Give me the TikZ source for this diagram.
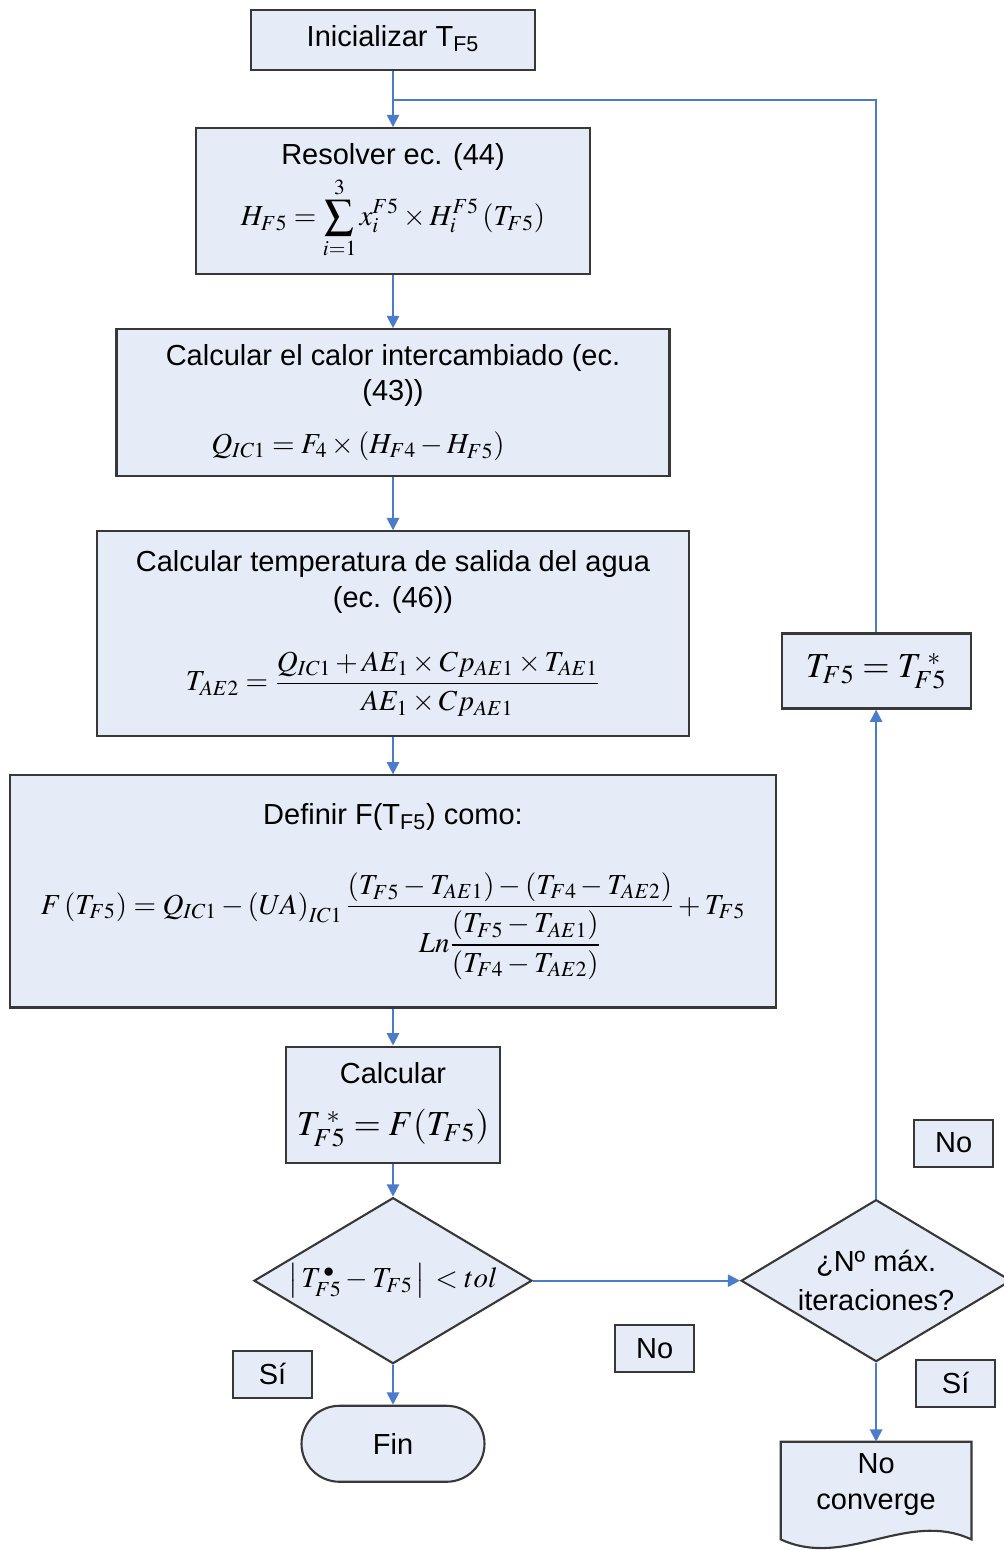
\documentclass[tikz,border=0pt]{standalone}
\usepackage{amsmath}
\usepackage{mathptmx}
\usepackage{fontspec}
\setmainfont{Liberation Sans}
\usetikzlibrary{positioning}
\usetikzlibrary{shapes.geometric,shapes.misc}
\usetikzlibrary{arrows.meta}
\definecolor{boxfill}{HTML}{E6ECF7}
\definecolor{boxline}{HTML}{383838}
\definecolor{flowblue}{HTML}{4A7CC9}
\tikzset{
    box/.style={
        draw=boxline,
        line width=1.2pt,
        fill=boxfill,
        align=center,
        inner sep=2pt},
    decision/.style={box, diamond, aspect=1.67, inner sep=0pt},
    terminal/.style={box, rounded rectangle},
    tag/.style={box, minimum width=1.58cm, minimum height=0.94cm},
    flow/.style={
        draw=flowblue,
        line width=1.1pt},
    arrow/.style={flow, -{Triangle[width=7pt,length=7pt]}}}

\begin{document}
\begin{tikzpicture}[font=\fontsize{16.5}{20}\selectfont]
    \useasboundingbox (0,0) rectangle (20.06,-31);
    % main column
    \node[box, minimum width=5.68cm, minimum height=1.2cm] (init) at (7.86,-0.8) {Inicializar T\textsubscript{F5}\rule[-4pt]{0pt}{0pt}};
    \node[box, minimum width=7.88cm, minimum height=2.92cm, below=1.12cm of init] (res)
        {Resolver ec. (44)\\[3pt] $\displaystyle H_{F5}=\sum_{i=1}^{3}x_i^{F5}\times H_i^{F5}\left(T_{F5}\right)$\rule[-4pt]{0pt}{0pt}};
    \node[box, minimum width=11.06cm, minimum height=2.94cm, below=1.06cm of res] (heat)
        {Calcular el calor intercambiado (ec.\\(43))\\[10pt] $Q_{IC1}=F_4\times\left(H_{F4}-H_{F5}\right)$\hspace*{1.4cm}\rule[-4pt]{0pt}{0pt}};
    \node[box, minimum width=11.84cm, minimum height=4.1cm, below=1.06cm of heat] (water)
        {Calcular temperatura de salida del agua\\(ec. (46))\\[21pt]
        $\displaystyle T_{AE2}=\frac{Q_{IC1}+AE_1\times Cp_{AE1}\times T_{AE1}}{AE_1\times Cp_{AE1}}$\rule[-8pt]{0pt}{0pt}};
    \node[box, minimum width=15.32cm, minimum height=4.64cm, below=0.74cm of water] (def)
        {Definir F(T\textsubscript{F5}) como:\\[23pt]
        $\displaystyle F\left(T_{F5}\right)=Q_{IC1}-\left(UA\right)_{IC1}\frac{\left(T_{F5}-T_{AE1}\right)-\left(T_{F4}-T_{AE2}\right)}{Ln\dfrac{\left(T_{F5}-T_{AE1}\right)}{\left(T_{F4}-T_{AE2}\right)}}+T_{F5}$\rule[-15pt]{0pt}{0pt}};
    \node[box, minimum width=4.28cm, minimum height=2.32cm, below=0.74cm of def] (calc)
        {Calcular\\[10pt] {\fontsize{20}{22}\selectfont $T_{F5}^{\;*}=F(T_{F5})$}};
    \node[decision, minimum width=5.56cm, minimum height=3.32cm, below=0.66cm of calc] (test)
        {$\left|\,T_{F5}^{\,\bullet}-T_{F5}\,\right|\,<tol$};
    \node[terminal, minimum width=3.8cm, minimum height=1.52cm, below=0.8cm of test] (fin) {Fin};
    % right column
    \node[decision, minimum width=5.4cm, minimum height=3.24cm, right=4.14cm of test] (maxit)
        {¿Nº máx.\\[2pt]iteraciones?};
    \node[box, minimum width=3.78cm, minimum height=1.5cm, above=9.78cm of maxit] (upd)
        {{\fontsize{20}{22}\selectfont $T_{F5}=T_{F5}^{\;*}$}};
    \node[minimum width=3.8cm, minimum height=1.7cm, align=center, below=1.58cm of maxit] (nc)
        {No\\converge};
    \draw[box] (nc.north west) -- (nc.north east) -- ([yshift=-0.24cm]nc.south east)
        .. controls +(-1.3,0.6) and +(1.3,-0.6) .. ([yshift=-0.24cm]nc.south west) -- cycle;
    \node[align=center] at (nc.center) {No\\converge};
    % answer tags
    \node[tag, above right=0.62cm and 0.74cm of maxit.north] (no1) {No};
    \node[tag, below right=0.86cm and 1.62cm of test.east] (no2) {No};
    \node[tag, below left=-0.3cm and 1.6cm of test.south] (yes1) {Sí};
    \node[tag, below right=-0.08cm and 0.78cm of maxit.south] (yes2) {Sí};
    % connectors
    \coordinate[below=0.58cm of init] (merge);
    \draw[arrow] (init) -- (res);
    \draw[flow] (upd.north) |- (merge);
    \draw[arrow] (res) -- (heat);
    \draw[arrow] (heat) -- (water);
    \draw[arrow] (water) -- (def);
    \draw[arrow] (def) -- (calc);
    \draw[arrow] (calc) -- (test);
    \draw[arrow] (test) -- (fin);
    \draw[arrow] (test) -- (maxit);
    \draw[arrow] (maxit) -- (upd);
    \draw[arrow] (maxit) -- (nc);
\end{tikzpicture}
\end{document}
